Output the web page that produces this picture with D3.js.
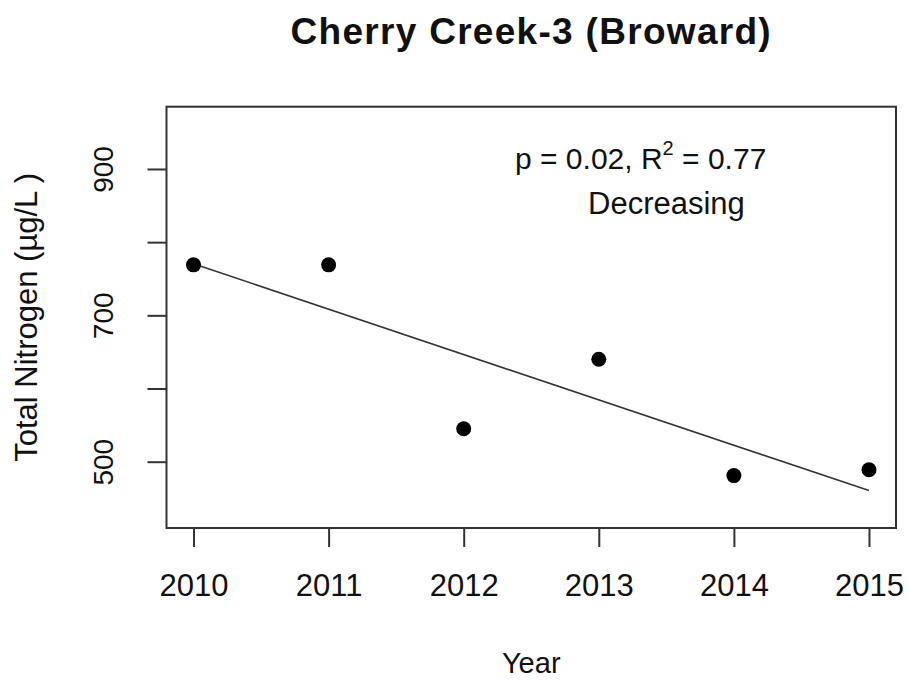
<!DOCTYPE html>
<html lang="en">
<head>
    <meta charset="UTF-8">
    <title>Cherry Creek-3 (Broward)</title>
    <script src="https://d3js.org/d3.v7.min.js"></script>
    <style>
        body { margin: 0; background: #fff; }
        text { font-family: "Liberation Sans", Arial, sans-serif; fill: #111; }
    </style>
</head>
<body>
    <div id="chart"></div>

    <script>
        // Data
        const years = [2010, 2011, 2012, 2013, 2014, 2015];
        const nitrogen = [769, 769, 545, 640, 481, 489];
        const yTicks = [500, 600, 700, 800, 900];
        const yTickLabels = ["500", "", "700", "", "900"];

        const width = 909;
        const height = 682;
        const box = { left: 166.5, right: 896, top: 106.7, bottom: 528 };

        const svg = d3.select("#chart")
            .append("svg")
            .attr("width", width)
            .attr("height", height);

        const x = d3.scaleLinear()
            .domain([2009.8, 2015.2])
            .range([box.left, box.right]);

        const y = d3.scaleLinear()
            .domain([409.4, 985.1])
            .range([box.bottom, box.top]);

        // Least squares fit for the trend line
        const mx = d3.mean(years), my = d3.mean(nitrogen);
        let sxy = 0, sxx = 0;
        years.forEach((yr, i) => {
            sxy += (yr - mx) * (nitrogen[i] - my);
            sxx += (yr - mx) * (yr - mx);
        });
        const slope = sxy / sxx;
        const fit = yr => my + slope * (yr - mx);

        // x axis
        const xAxis = svg.append("g")
            .attr("transform", `translate(0,${box.bottom})`)
            .call(d3.axisBottom(x).tickValues(years).tickFormat(d3.format("d")).tickSize(19).tickPadding(27));
        xAxis.select(".domain").remove();
        xAxis.selectAll("line").attr("stroke", "#333").attr("stroke-width", 2);
        xAxis.selectAll("text")
            .style("font-size", "31px")
            .style("font-family", "'Liberation Sans', Arial, sans-serif")
            .attr("fill", "#111");

        // y axis, labels rotated like R's default
        const yAxis = svg.append("g")
            .attr("transform", `translate(${box.left},0)`)
            .call(d3.axisLeft(y).tickValues(yTicks).tickFormat((d, i) => yTickLabels[i]).tickSize(19));
        yAxis.select(".domain").remove();
        yAxis.selectAll("line").attr("stroke", "#333").attr("stroke-width", 2);
        yAxis.selectAll("text")
            .attr("x", null)
            .attr("dy", null)
            .attr("transform", "translate(-54,0) rotate(-90)")
            .attr("text-anchor", "middle")
            .style("font-size", "28px")
            .style("font-family", "'Liberation Sans', Arial, sans-serif")
            .attr("fill", "#111");

        // plot box
        svg.append("rect")
            .attr("x", box.left)
            .attr("y", box.top)
            .attr("width", box.right - box.left)
            .attr("height", box.bottom - box.top)
            .attr("fill", "none")
            .attr("stroke", "#333")
            .attr("stroke-width", 2);

        // trend line
        svg.append("line")
            .attr("x1", x(years[0]))
            .attr("y1", y(fit(years[0])))
            .attr("x2", x(years[years.length - 1]))
            .attr("y2", y(fit(years[years.length - 1])))
            .attr("stroke", "#333")
            .attr("stroke-width", 1.6);

        // points
        svg.selectAll("circle")
            .data(years)
            .enter()
            .append("circle")
            .attr("cx", d => x(d))
            .attr("cy", (d, i) => y(nitrogen[i]))
            .attr("r", 7.5)
            .attr("fill", "#000");

        // title
        svg.append("text")
            .attr("x", (box.left + box.right) / 2)
            .attr("y", 44)
            .attr("text-anchor", "middle")
            .style("font-size", "37px")
            .style("font-weight", "bold")
            .style("letter-spacing", "1.3px")
            .text("Cherry Creek-3 (Broward)");

        // axis titles
        svg.append("text")
            .attr("x", (box.left + box.right) / 2)
            .attr("y", 673)
            .attr("text-anchor", "middle")
            .style("font-size", "29px")
            .text("Year");

        svg.append("text")
            .attr("transform", `translate(37,${(box.top + box.bottom) / 2}) rotate(-90)`)
            .attr("text-anchor", "middle")
            .style("font-size", "31px")
            .text("Total Nitrogen (µg/L )");

        // annotation
        const stat = svg.append("text")
            .attr("x", 515)
            .attr("y", 169)
            .style("font-size", "30px");
        stat.append("tspan").text("p = 0.02, R");
        stat.append("tspan").attr("dy", -14).style("font-size", "20px").text("2");
        stat.append("tspan").attr("dy", 14).text(" = 0.77");

        svg.append("text")
            .attr("x", 588)
            .attr("y", 214)
            .style("font-size", "31px")
            .text("Decreasing");
    </script>
</body>
</html>
